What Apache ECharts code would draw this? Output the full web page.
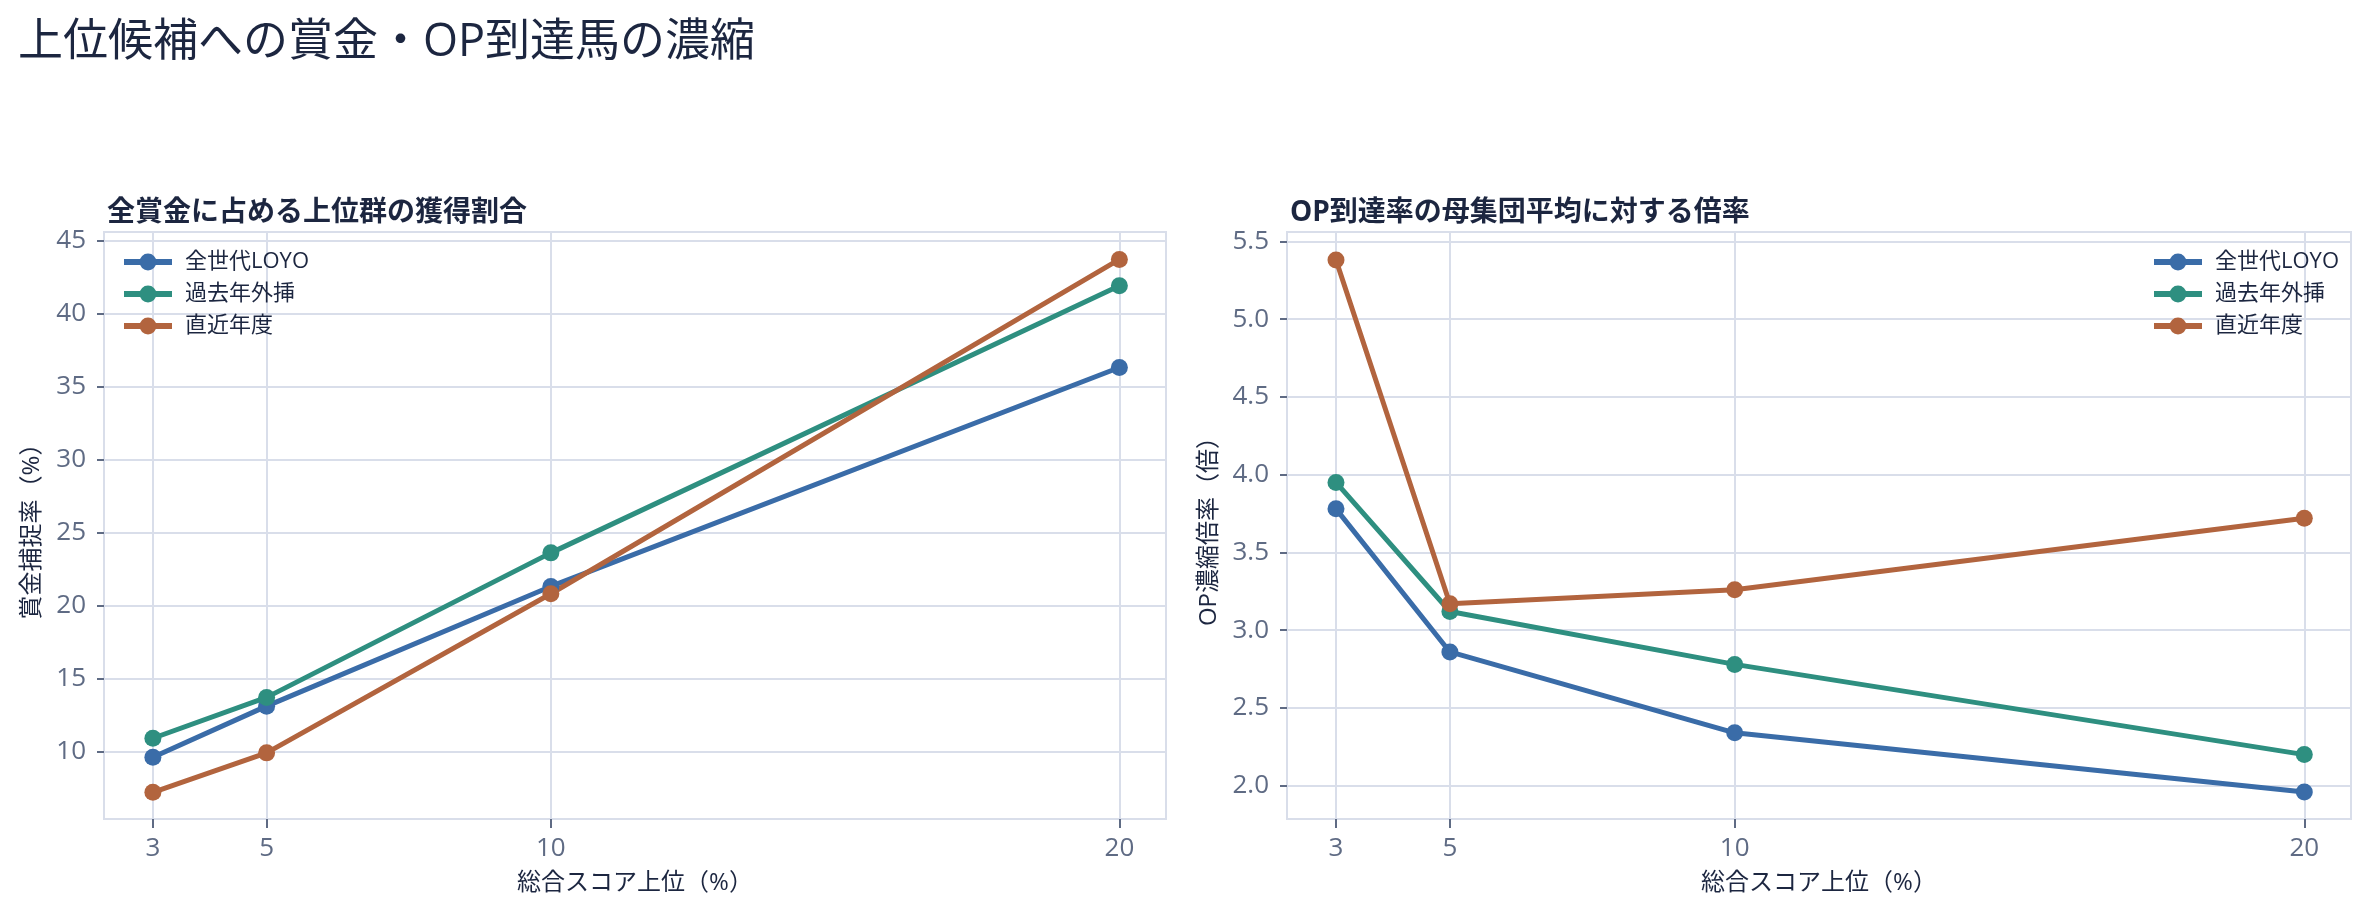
<!DOCTYPE html>
<html>
<head>
<meta charset="utf-8">
<script src="https://cdn.jsdelivr.net/npm/echarts@6/dist/echarts.min.js"></script>
<style>
  html, body { margin: 0; padding: 0; background: #fff; }
  #chart { width: 2368px; height: 915px; }
</style>
</head>
<body>
<div id="chart"></div>
<script>
// data
var topPct = [3, 5, 10, 20];
var seriesNames = ['全世代LOYO', '過去年外挿', '直近年度'];

var prizeLoyo = [9.6, 13.1, 21.3, 36.3];
var prizeExtrap = [10.9, 13.7, 23.6, 41.9];
var prizeRecent = [7.2, 9.9, 20.8, 43.7];

var opLoyo = [3.78, 2.86, 2.34, 1.96];
var opExtrap = [3.95, 3.12, 2.78, 2.20];
var opRecent = [5.38, 3.17, 3.26, 3.72];

var xTicks = [3, 5, 10, 20];
var prizeTicks = [10, 15, 20, 25, 30, 35, 40, 45];
var opTicks = [2.0, 2.5, 3.0, 3.5, 4.0, 4.5, 5.0, 5.5];

var colors = ['#3a6ca8', '#2e8f80', '#b2643e'];
var gridColor = '#d9deea';
var tickColor = '#5f6b84';
var darkText = '#1c2640';
var font = "'Open Sans', 'Noto Sans CJK JP', sans-serif";

var chart = echarts.init(document.getElementById('chart'));

function xAxis(idx) {
  return {
    type: 'value', gridIndex: idx, min: 2.14, max: 20.82,
    name: '総合スコア上位（%）', nameLocation: 'middle', nameGap: 52,
    nameTextStyle: { fontSize: 24, color: darkText, fontFamily: font },
    axisLine: { show: false },
    axisTick: { show: true, customValues: xTicks, length: 9, lineStyle: { color: tickColor, width: 2 } },
    axisLabel: { customValues: xTicks, margin: 17, fontSize: 26, color: tickColor, fontFamily: font },
    splitLine: { show: false }
  };
}

function yAxis(idx, min, max, split, ticks, name, gap, fmt) {
  return {
    type: 'value', gridIndex: idx, min: min, max: max, splitNumber: split,
    name: name, nameLocation: 'middle', nameGap: gap, nameRotate: 90,
    nameTextStyle: { fontSize: 24, color: darkText, fontFamily: font },
    axisLine: { show: false },
    axisTick: { show: true, customValues: ticks, length: 7, lineStyle: { color: tickColor, width: 2 } },
    axisLabel: { customValues: ticks, margin: 18, fontSize: 26, color: tickColor, fontFamily: font, formatter: fmt },
    splitLine: { show: true, lineStyle: { color: gridColor, width: 2 } }
  };
}

function lineSeries(name, idx, xs, ys, c) {
  return {
    name: name, type: 'line', xAxisIndex: idx, yAxisIndex: idx,
    data: xs.map(function (x, i) { return [x, ys[i]]; }),
    symbol: 'circle', symbolSize: 17, showAllSymbol: true,
    lineStyle: { width: 5, color: c },
    itemStyle: { color: c, borderWidth: 0 },
    z: 3
  };
}

function xGrid(idx) {
  // vertical grid lines only at the x ticks, kept under the series
  return {
    type: 'line', xAxisIndex: idx, yAxisIndex: idx, data: [], z: 1, silent: true,
    markLine: {
      z: 1, silent: true, symbol: ['none', 'none'], label: { show: false },
      lineStyle: { color: gridColor, width: 2, type: 'solid' },
      data: xTicks.map(function (v) { return { xAxis: v }; })
    }
  };
}

var legendBase = {
  orient: 'vertical', top: 251, padding: 0, itemWidth: 48, itemHeight: 21, itemGap: 10,
  data: seriesNames,
  lineStyle: { width: 6 },
  textStyle: { fontSize: 22, color: darkText, fontFamily: font, padding: [0, 0, 0, 8] }
};

var option = {
  backgroundColor: '#fff',
  animation: false,
  title: [
    { text: '上位候補への賞金・OP到達馬の濃縮', left: 13, top: 16,
      textStyle: { fontSize: 45, fontWeight: 'normal', color: darkText, fontFamily: font } },
    { text: '全賞金に占める上位群の獲得割合', left: 102, top: 194,
      textStyle: { fontSize: 28, fontWeight: 'bold', color: darkText, fontFamily: font } },
    { text: 'OP到達率の母集団平均に対する倍率', left: 1285, top: 194,
      textStyle: { fontSize: 28, fontWeight: 'bold', color: darkText, fontFamily: font } }
  ],
  legend: [
    Object.assign({}, legendBase, { left: 121 }),
    Object.assign({}, legendBase, { left: 2151 })
  ],
  grid: [
    { left: 104, top: 232, width: 1062, height: 587, show: true, borderColor: gridColor, borderWidth: 2, backgroundColor: '#fff' },
    { left: 1287, top: 232, width: 1064, height: 587, show: true, borderColor: gridColor, borderWidth: 2, backgroundColor: '#fff' }
  ],
  xAxis: [xAxis(0), xAxis(1)],
  yAxis: [
    yAxis(0, 5.37, 45.58, 8, prizeTicks, '賞金捕捉率（%）', 60, function (v) { return String(v); }),
    yAxis(1, 1.786, 5.56, 7, opTicks, 'OP濃縮倍率（倍）', 66, function (v) { return v.toFixed(1); })
  ],
  series: [
    xGrid(0), xGrid(1),
    lineSeries(seriesNames[0], 0, topPct, prizeLoyo, colors[0]),
    lineSeries(seriesNames[1], 0, topPct, prizeExtrap, colors[1]),
    lineSeries(seriesNames[2], 0, topPct, prizeRecent, colors[2]),
    lineSeries(seriesNames[0], 1, topPct, opLoyo, colors[0]),
    lineSeries(seriesNames[1], 1, topPct, opExtrap, colors[1]),
    lineSeries(seriesNames[2], 1, topPct, opRecent, colors[2])
  ]
};

chart.setOption(option);
</script>
</body>
</html>
